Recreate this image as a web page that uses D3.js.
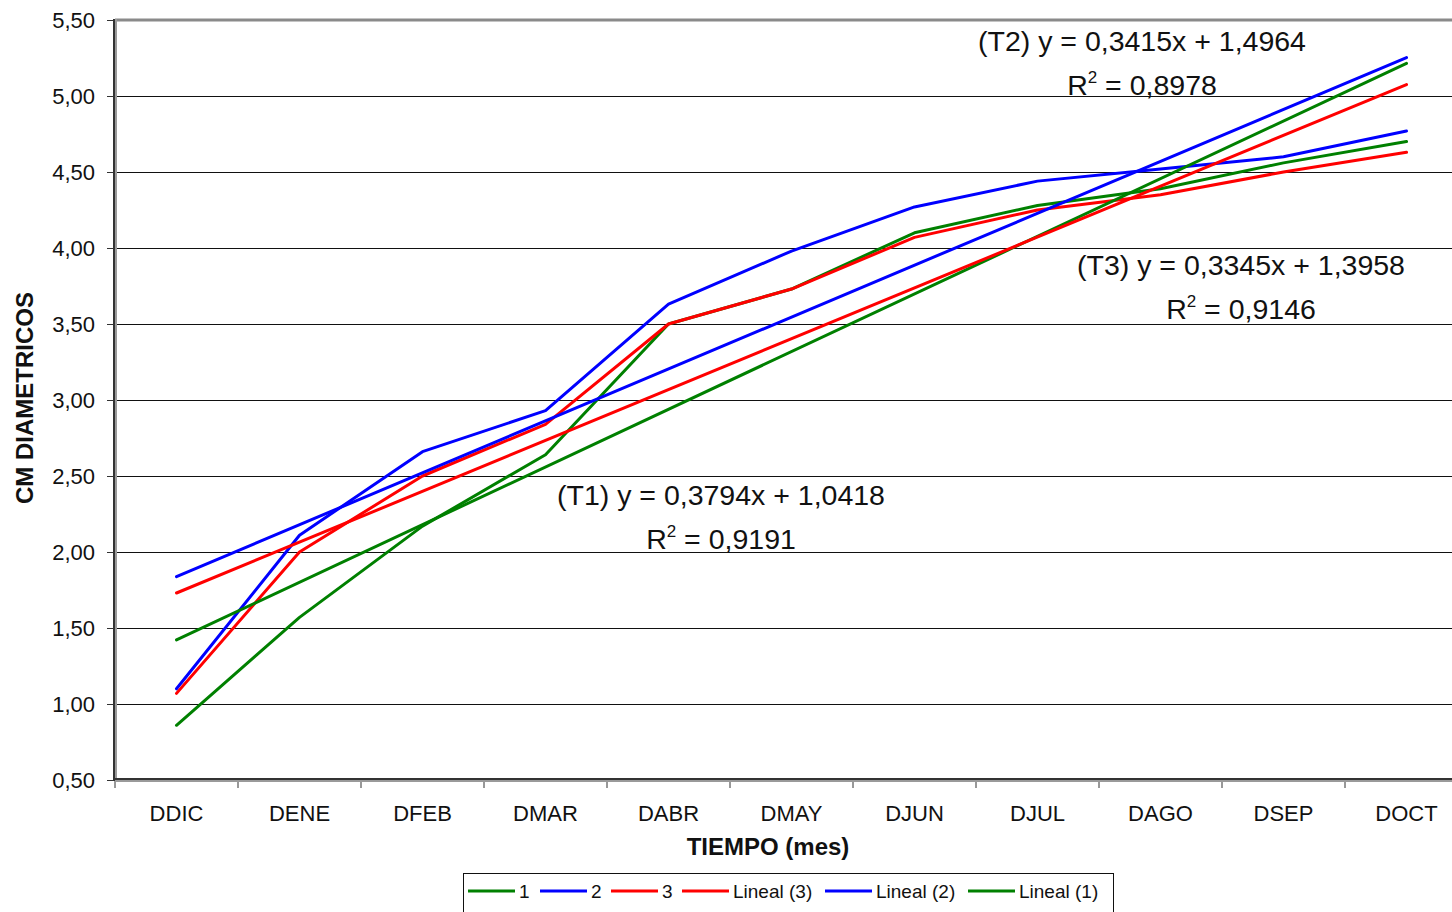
<!DOCTYPE html>
<html>
<head>
<meta charset="utf-8">
<script src="https://cdn.jsdelivr.net/npm/d3@7"></script>
<style>
  body { margin: 0; background: #fff; }
  svg { display: block; font-family: "Liberation Sans", Arial, sans-serif; }
</style>
</head>
<body>
<svg id="chart" width="1452" height="912"></svg>
<script>
// months (diameter readings)
let months = ["DDIC", "DENE", "DFEB", "DMAR", "DABR", "DMAY", "DJUN", "DJUL", "DAGO", "DSEP", "DOCT"];

// series values
let serie1 = [0.86, 1.57, 2.17, 2.64, 3.50, 3.73, 4.10, 4.28, 4.39, 4.56, 4.70];
let serie2 = [1.10, 2.11, 2.66, 2.93, 3.63, 3.98, 4.27, 4.44, 4.52, 4.60, 4.77];
let serie3 = [1.07, 2.00, 2.50, 2.84, 3.50, 3.73, 4.07, 4.25, 4.35, 4.50, 4.63];

// linear trendlines as printed on the chart (T1, T2, T3)
let trendNames = ["T1", "T2", "T3"];
let trendSlopes = [0.3794, 0.3415, 0.3345];
let trendIntercepts = [1.0418, 1.4964, 1.3958];
let trendR2 = ["0,9191", "0,8978", "0,9146"];

let yTicks = [0.5, 1, 1.5, 2, 2.5, 3, 3.5, 4, 4.5, 5, 5.5];

let legendLabels = ["1", "2", "3", "Lineal (3)", "Lineal (2)", "Lineal (1)"];

let green = "#008000", blue = "#0000ff", red = "#ff0000";

let svg = d3.select("#chart");

let plotLeft = 115, plotTop = 20, plotBottom = 780;
let band = 123;

let x = d3.scaleBand()
  .domain(months)
  .range([plotLeft, plotLeft + band * months.length])
  .paddingInner(0).paddingOuter(0);

let y = d3.scaleLinear()
  .domain([0.5, 5.5])
  .range([plotBottom, plotTop]);

let xi = d3.scaleLinear()
  .domain([1, months.length])
  .range([x(months[0]) + x.bandwidth() / 2, x(months[months.length - 1]) + x.bandwidth() / 2]);

let locale = d3.formatLocale({decimal: ",", thousands: ".", grouping: [3], currency: ["", ""]});
let comma = locale.format(".2f");
let fmt4 = locale.format(".4f");

// gridlines
svg.append("g")
  .selectAll("line")
  .data(yTicks.slice(1, -1))
  .enter()
  .append("line")
  .attr("x1", plotLeft).attr("x2", 1452)
  .attr("y1", d => y(d) + 0.5).attr("y2", d => y(d) + 0.5)
  .attr("stroke", "#111")
  .attr("stroke-width", 1);

// top border of plot area
svg.append("line")
  .attr("x1", plotLeft).attr("x2", 1452)
  .attr("y1", y(5.5)).attr("y2", y(5.5))
  .attr("stroke", "#8a8a8a")
  .attr("stroke-width", 3);

// y axis
let yAxis = d3.axisLeft(y)
  .tickValues(yTicks)
  .tickSize(8)
  .tickPadding(12)
  .tickFormat(comma);

let gy = svg.append("g")
  .attr("transform", "translate(" + plotLeft + ",0)")
  .call(yAxis);
gy.select(".domain").remove();
gy.selectAll(".tick line").attr("stroke", "#333");
gy.selectAll(".tick text")
  .attr("font-size", 22)
  .attr("font-family", "Liberation Sans, Arial, sans-serif")
  .attr("fill", "#111");

// x axis
let xAxis = d3.axisBottom(x)
  .tickSize(0)
  .tickPadding(25);

let gx = svg.append("g")
  .attr("transform", "translate(0," + plotBottom + ")")
  .call(xAxis);
gx.select(".domain").remove();
gx.selectAll(".tick text")
  .attr("font-size", 22)
  .attr("font-family", "Liberation Sans, Arial, sans-serif")
  .attr("fill", "#111");

// x ticks on band boundaries
svg.append("g")
  .selectAll("line")
  .data(months)
  .enter()
  .append("line")
  .attr("x1", d => x(d)).attr("x2", d => x(d))
  .attr("y1", plotBottom).attr("y2", plotBottom + 8)
  .attr("stroke", "#333");

// axis lines
svg.append("line")
  .attr("x1", plotLeft).attr("x2", plotLeft)
  .attr("y1", plotTop - 1).attr("y2", plotBottom + 1)
  .attr("stroke", "#9a9a9a").attr("stroke-width", 4);
svg.append("line")
  .attr("x1", plotLeft).attr("x2", 1452)
  .attr("y1", plotBottom).attr("y2", plotBottom)
  .attr("stroke", "#9a9a9a").attr("stroke-width", 4);
svg.append("line")
  .attr("x1", plotLeft - 1).attr("x2", plotLeft - 1)
  .attr("y1", plotTop - 1).attr("y2", plotBottom + 1)
  .attr("stroke", "#333").attr("stroke-width", 2);
svg.append("line")
  .attr("x1", plotLeft).attr("x2", 1452)
  .attr("y1", plotBottom - 1).attr("y2", plotBottom - 1)
  .attr("stroke", "#333").attr("stroke-width", 2);

// data lines
let line = d3.line()
  .x((d, i) => x(months[i]) + x.bandwidth() / 2)
  .y(d => y(d));

let series = [
  {values: serie1, color: green},
  {values: serie2, color: blue},
  {values: serie3, color: red}
];

svg.append("g")
  .selectAll("path")
  .data(series)
  .enter()
  .append("path")
  .attr("d", d => line(d.values))
  .attr("fill", "none")
  .attr("stroke", d => d.color)
  .attr("stroke-width", 3)
  .attr("stroke-linejoin", "round")
  .attr("stroke-linecap", "round");

// trendlines
let trendColors = [green, blue, red];
svg.append("g")
  .selectAll("line")
  .data(trendSlopes)
  .enter()
  .append("line")
  .attr("x1", xi(1))
  .attr("x2", xi(months.length))
  .attr("y1", (d, i) => y(d * 1 + trendIntercepts[i]))
  .attr("y2", (d, i) => y(d * months.length + trendIntercepts[i]))
  .attr("stroke", (d, i) => trendColors[i])
  .attr("stroke-width", 3)
  .attr("stroke-linecap", "round");

// trendline equations
let eqPos = [
  {cx: 721, y: 505},
  {cx: 1142, y: 51},
  {cx: 1241, y: 275}
];

trendNames.forEach((name, i) => {
  let p = eqPos[i];
  svg.append("text")
    .attr("x", p.cx).attr("y", p.y)
    .attr("text-anchor", "middle")
    .attr("font-size", 28.5)
    .attr("fill", "#111")
    .text("(" + name + ") y = " + fmt4(trendSlopes[i]) + "x + " + fmt4(trendIntercepts[i]));
  let r = svg.append("text")
    .attr("x", p.cx).attr("y", p.y + 44)
    .attr("text-anchor", "middle")
    .attr("font-size", 28.5)
    .attr("fill", "#111");
  r.append("tspan").text("R");
  r.append("tspan").attr("font-size", 17).attr("dy", -12).text("2");
  r.append("tspan").attr("dy", 12).text(" = " + trendR2[i]);
});

// axis titles
svg.append("text")
  .attr("x", 768).attr("y", 855)
  .attr("text-anchor", "middle")
  .attr("font-size", 24)
  .attr("font-weight", "bold")
  .attr("fill", "#111")
  .text("TIEMPO (mes)");

svg.append("text")
  .attr("transform", "translate(33,398) rotate(-90)")
  .attr("text-anchor", "middle")
  .attr("font-size", 24)
  .attr("font-weight", "bold")
  .attr("fill", "#111")
  .text("CM DIAMETRICOS");

// legend
let legendColors = [green, blue, red, red, blue, green];
let legendX = [468, 540, 611, 682, 825, 968];

let lg = svg.append("g");
lg.append("rect")
  .attr("x", 463.5).attr("y", 873.5)
  .attr("width", 650).attr("height", 60)
  .attr("fill", "#fff")
  .attr("stroke", "#111")
  .attr("stroke-width", 1);

let items = lg.selectAll("g.item")
  .data(legendLabels)
  .enter()
  .append("g")
  .attr("class", "item")
  .attr("transform", (d, i) => "translate(" + legendX[i] + ",891)");

items.append("line")
  .attr("x1", 0).attr("x2", 47)
  .attr("stroke", (d, i) => legendColors[i])
  .attr("stroke-width", 3);

items.append("text")
  .attr("x", 51).attr("y", 7)
  .attr("font-size", 19)
  .attr("fill", "#111")
  .text(d => d);
</script>
</body>
</html>
